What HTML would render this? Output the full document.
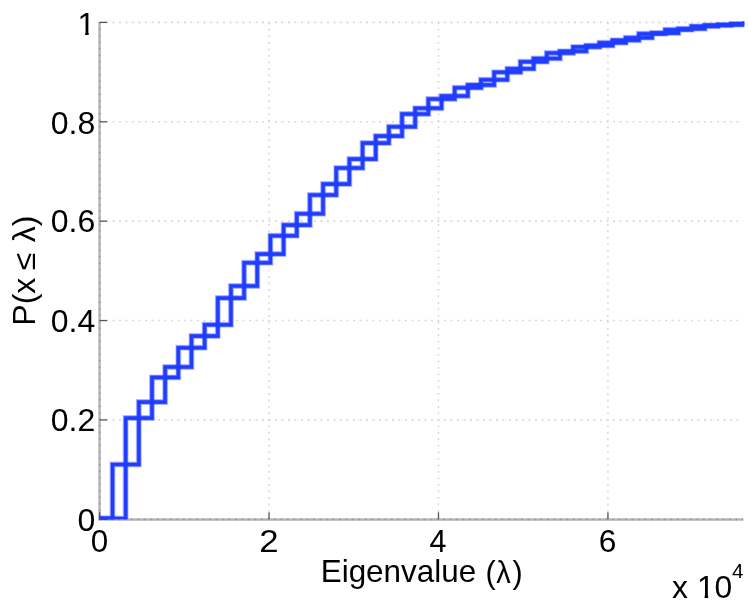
<!DOCTYPE html>
<html><head><meta charset="utf-8"><title>Eigenvalue CDF</title>
<style>
html,body{margin:0;padding:0;background:#fff;}
body{width:749px;height:600px;overflow:hidden;}
svg{display:block;}
text{font-family:"Liberation Sans",sans-serif;font-size:30.5px;fill:#000;}
</style></head><body>
<svg width="749" height="600" viewBox="0 0 749 600">
<defs><clipPath id="ax"><rect x="99.6" y="21.4" width="644.6" height="497.9"/></clipPath></defs>
<rect width="749" height="600" fill="#fff"/>
<g stroke="#d6d6d6" stroke-width="1.6" stroke-dasharray="1.8 4.7" fill="none">
<line x1="269.04" y1="22.4" x2="269.04" y2="519.3"/>
<line x1="438.48" y1="22.4" x2="438.48" y2="519.3"/>
<line x1="607.92" y1="22.4" x2="607.92" y2="519.3"/>
<line x1="99.6" y1="419.92" x2="743.2" y2="419.92"/>
<line x1="99.6" y1="320.54" x2="743.2" y2="320.54"/>
<line x1="99.6" y1="221.16" x2="743.2" y2="221.16"/>
<line x1="99.6" y1="121.78" x2="743.2" y2="121.78"/>
<line x1="99.6" y1="22.40" x2="743.2" y2="22.40"/>
</g>
<g fill="none" stroke="#b6b6b6" stroke-width="2.5">
<line x1="99.6" y1="21.9" x2="99.6" y2="520.3"/>
<line x1="98.6" y1="519.5" x2="743.2" y2="519.5"/>
</g>
<g fill="none" stroke="#949494" stroke-width="1.4" stroke-dasharray="1.6 4.9">
<line x1="99.6" y1="21.9" x2="99.6" y2="520.3"/>
<line x1="98.6" y1="519.5" x2="743.2" y2="519.5"/>
</g>
<g stroke="#555" stroke-width="1.3" fill="none">
<line x1="99.60" y1="519.3" x2="99.60" y2="512.3"/>
<line x1="269.04" y1="519.3" x2="269.04" y2="512.3"/>
<line x1="438.48" y1="519.3" x2="438.48" y2="512.3"/>
<line x1="607.92" y1="519.3" x2="607.92" y2="512.3"/>
<line x1="99.6" y1="519.30" x2="107.1" y2="519.30"/>
<line x1="99.6" y1="419.92" x2="107.1" y2="419.92"/>
<line x1="99.6" y1="320.54" x2="107.1" y2="320.54"/>
<line x1="99.6" y1="221.16" x2="107.1" y2="221.16"/>
<line x1="99.6" y1="121.78" x2="107.1" y2="121.78"/>
<line x1="99.6" y1="22.40" x2="107.1" y2="22.40"/>
</g>
<g clip-path="url(#ax)" fill="none" stroke="#1f3cff" stroke-linejoin="miter">
<g stroke-width="6.0" stroke-opacity="0.25"><polyline points="99.35,518.50 112.51,518.50 112.51,464.50 138.83,464.50 138.83,402.10 165.15,402.10 165.15,367.00 191.47,367.00 191.47,336.10 217.79,336.10 217.79,298.10 244.11,298.10 244.11,262.80 270.43,262.80 270.43,235.70 296.75,235.70 296.75,213.70 323.07,213.70 323.07,184.10 349.39,184.10 349.39,159.10 375.71,159.10 375.71,136.10 402.03,136.10 402.03,114.00 428.35,114.00 428.35,99.00 454.67,99.00 454.67,87.80 480.99,87.80 480.99,79.80 507.31,79.80 507.31,68.80 533.63,68.80 533.63,58.50 559.95,58.50 559.95,51.30 586.27,51.30 586.27,45.60 612.59,45.60 612.59,40.20 638.91,40.20 638.91,33.80 665.23,33.80 665.23,29.70 691.55,29.70 691.55,26.30 717.87,26.30 717.87,24.80 744.19,24.80 744.19,22.00 770.51,22.00"/><polyline points="99.35,518.50 125.67,518.50 125.67,418.10 151.99,418.10 151.99,377.40 178.31,377.40 178.31,347.70 204.63,347.70 204.63,324.70 230.95,324.70 230.95,286.00 257.27,286.00 257.27,254.10 283.59,254.10 283.59,225.10 309.91,225.10 309.91,195.00 336.23,195.00 336.23,168.00 362.55,168.00 362.55,143.10 388.87,143.10 388.87,126.70 415.19,126.70 415.19,108.30 441.51,108.30 441.51,96.00 467.83,96.00 467.83,84.90 494.15,84.90 494.15,72.30 520.47,72.30 520.47,61.70 546.79,61.70 546.79,53.00 573.11,53.00 573.11,46.90 599.43,46.90 599.43,42.70 625.75,42.70 625.75,37.70 652.07,37.70 652.07,33.10 678.39,33.10 678.39,28.80 704.71,28.80 704.71,25.30 731.03,25.30 731.03,23.40 757.35,23.40 757.35,22.00 783.67,22.00"/></g>
<g stroke-width="4.5" stroke-opacity="0.6"><polyline points="99.35,518.50 112.51,518.50 112.51,464.50 138.83,464.50 138.83,402.10 165.15,402.10 165.15,367.00 191.47,367.00 191.47,336.10 217.79,336.10 217.79,298.10 244.11,298.10 244.11,262.80 270.43,262.80 270.43,235.70 296.75,235.70 296.75,213.70 323.07,213.70 323.07,184.10 349.39,184.10 349.39,159.10 375.71,159.10 375.71,136.10 402.03,136.10 402.03,114.00 428.35,114.00 428.35,99.00 454.67,99.00 454.67,87.80 480.99,87.80 480.99,79.80 507.31,79.80 507.31,68.80 533.63,68.80 533.63,58.50 559.95,58.50 559.95,51.30 586.27,51.30 586.27,45.60 612.59,45.60 612.59,40.20 638.91,40.20 638.91,33.80 665.23,33.80 665.23,29.70 691.55,29.70 691.55,26.30 717.87,26.30 717.87,24.80 744.19,24.80 744.19,22.00 770.51,22.00"/><polyline points="99.35,518.50 125.67,518.50 125.67,418.10 151.99,418.10 151.99,377.40 178.31,377.40 178.31,347.70 204.63,347.70 204.63,324.70 230.95,324.70 230.95,286.00 257.27,286.00 257.27,254.10 283.59,254.10 283.59,225.10 309.91,225.10 309.91,195.00 336.23,195.00 336.23,168.00 362.55,168.00 362.55,143.10 388.87,143.10 388.87,126.70 415.19,126.70 415.19,108.30 441.51,108.30 441.51,96.00 467.83,96.00 467.83,84.90 494.15,84.90 494.15,72.30 520.47,72.30 520.47,61.70 546.79,61.70 546.79,53.00 573.11,53.00 573.11,46.90 599.43,46.90 599.43,42.70 625.75,42.70 625.75,37.70 652.07,37.70 652.07,33.10 678.39,33.10 678.39,28.80 704.71,28.80 704.71,25.30 731.03,25.30 731.03,23.40 757.35,23.40 757.35,22.00 783.67,22.00"/></g>
<g stroke-width="3.1"><polyline points="99.35,518.50 112.51,518.50 112.51,464.50 138.83,464.50 138.83,402.10 165.15,402.10 165.15,367.00 191.47,367.00 191.47,336.10 217.79,336.10 217.79,298.10 244.11,298.10 244.11,262.80 270.43,262.80 270.43,235.70 296.75,235.70 296.75,213.70 323.07,213.70 323.07,184.10 349.39,184.10 349.39,159.10 375.71,159.10 375.71,136.10 402.03,136.10 402.03,114.00 428.35,114.00 428.35,99.00 454.67,99.00 454.67,87.80 480.99,87.80 480.99,79.80 507.31,79.80 507.31,68.80 533.63,68.80 533.63,58.50 559.95,58.50 559.95,51.30 586.27,51.30 586.27,45.60 612.59,45.60 612.59,40.20 638.91,40.20 638.91,33.80 665.23,33.80 665.23,29.70 691.55,29.70 691.55,26.30 717.87,26.30 717.87,24.80 744.19,24.80 744.19,22.00 770.51,22.00"/><polyline points="99.35,518.50 125.67,518.50 125.67,418.10 151.99,418.10 151.99,377.40 178.31,377.40 178.31,347.70 204.63,347.70 204.63,324.70 230.95,324.70 230.95,286.00 257.27,286.00 257.27,254.10 283.59,254.10 283.59,225.10 309.91,225.10 309.91,195.00 336.23,195.00 336.23,168.00 362.55,168.00 362.55,143.10 388.87,143.10 388.87,126.70 415.19,126.70 415.19,108.30 441.51,108.30 441.51,96.00 467.83,96.00 467.83,84.90 494.15,84.90 494.15,72.30 520.47,72.30 520.47,61.70 546.79,61.70 546.79,53.00 573.11,53.00 573.11,46.90 599.43,46.90 599.43,42.70 625.75,42.70 625.75,37.70 652.07,37.70 652.07,33.10 678.39,33.10 678.39,28.80 704.71,28.80 704.71,25.30 731.03,25.30 731.03,23.40 757.35,23.40 757.35,22.00 783.67,22.00"/></g>
</g>
<g>
<text transform="translate(99.60,552.05) scale(1.030,1.000)" text-anchor="middle">0</text>
<text transform="translate(268.84,552.05) scale(1.140,1.000)" text-anchor="middle">2</text>
<text transform="translate(437.98,552.05) scale(1.000,1.035)" text-anchor="middle">4</text>
<text transform="translate(607.52,552.05) scale(1.040,1.000)" text-anchor="middle">6</text>
<text transform="translate(95.30,530.85) scale(1.050,1.000)" text-anchor="end">0</text>
<text transform="translate(95.30,431.20) scale(1.050,1.000)" text-anchor="end">0.2</text>
<text transform="translate(95.30,331.70) scale(1.050,1.000)" text-anchor="end">0.4</text>
<text transform="translate(95.30,232.10) scale(1.050,1.000)" text-anchor="end">0.6</text>
<text transform="translate(95.30,133.95) scale(1.050,1.000)" text-anchor="end">0.8</text>
<text transform="translate(95.30,34.60) scale(1.050,1.050)" text-anchor="end">1</text>
<text transform="translate(320.70,582.35) scale(1.030,1.000)" text-anchor="start">Eigenvalue</text>
<text transform="translate(485.60,582.60) scale(1.000,1.000)" text-anchor="start">(</text>
<text transform="translate(496.30,582.60) scale(0.950,1.000)" text-anchor="start">λ</text>
<text transform="translate(512.60,582.60) scale(1.000,1.000)" text-anchor="start">)</text>
<text transform="translate(35.2,270.6) rotate(-90) scale(1.05,1)" text-anchor="middle">P(x <tspan dx="-1.4">≤</tspan><tspan dx="1.4"> λ)</tspan></text>
<text transform="translate(672.1,597.6) scale(1.045,1)">x 10</text>
<text x="732.1" y="577.7" style="font-size:20.7px">4</text>
<g fill="#fff"><rect x="78.5" y="31.4" width="6.7" height="4.6"/><rect x="88.7" y="31.4" width="6.3" height="4.6"/>
<rect x="698" y="594.4" width="6.6" height="4.6"/><rect x="708.2" y="594.4" width="6.8" height="4.6"/></g>
</g>
</svg>
</body></html>
